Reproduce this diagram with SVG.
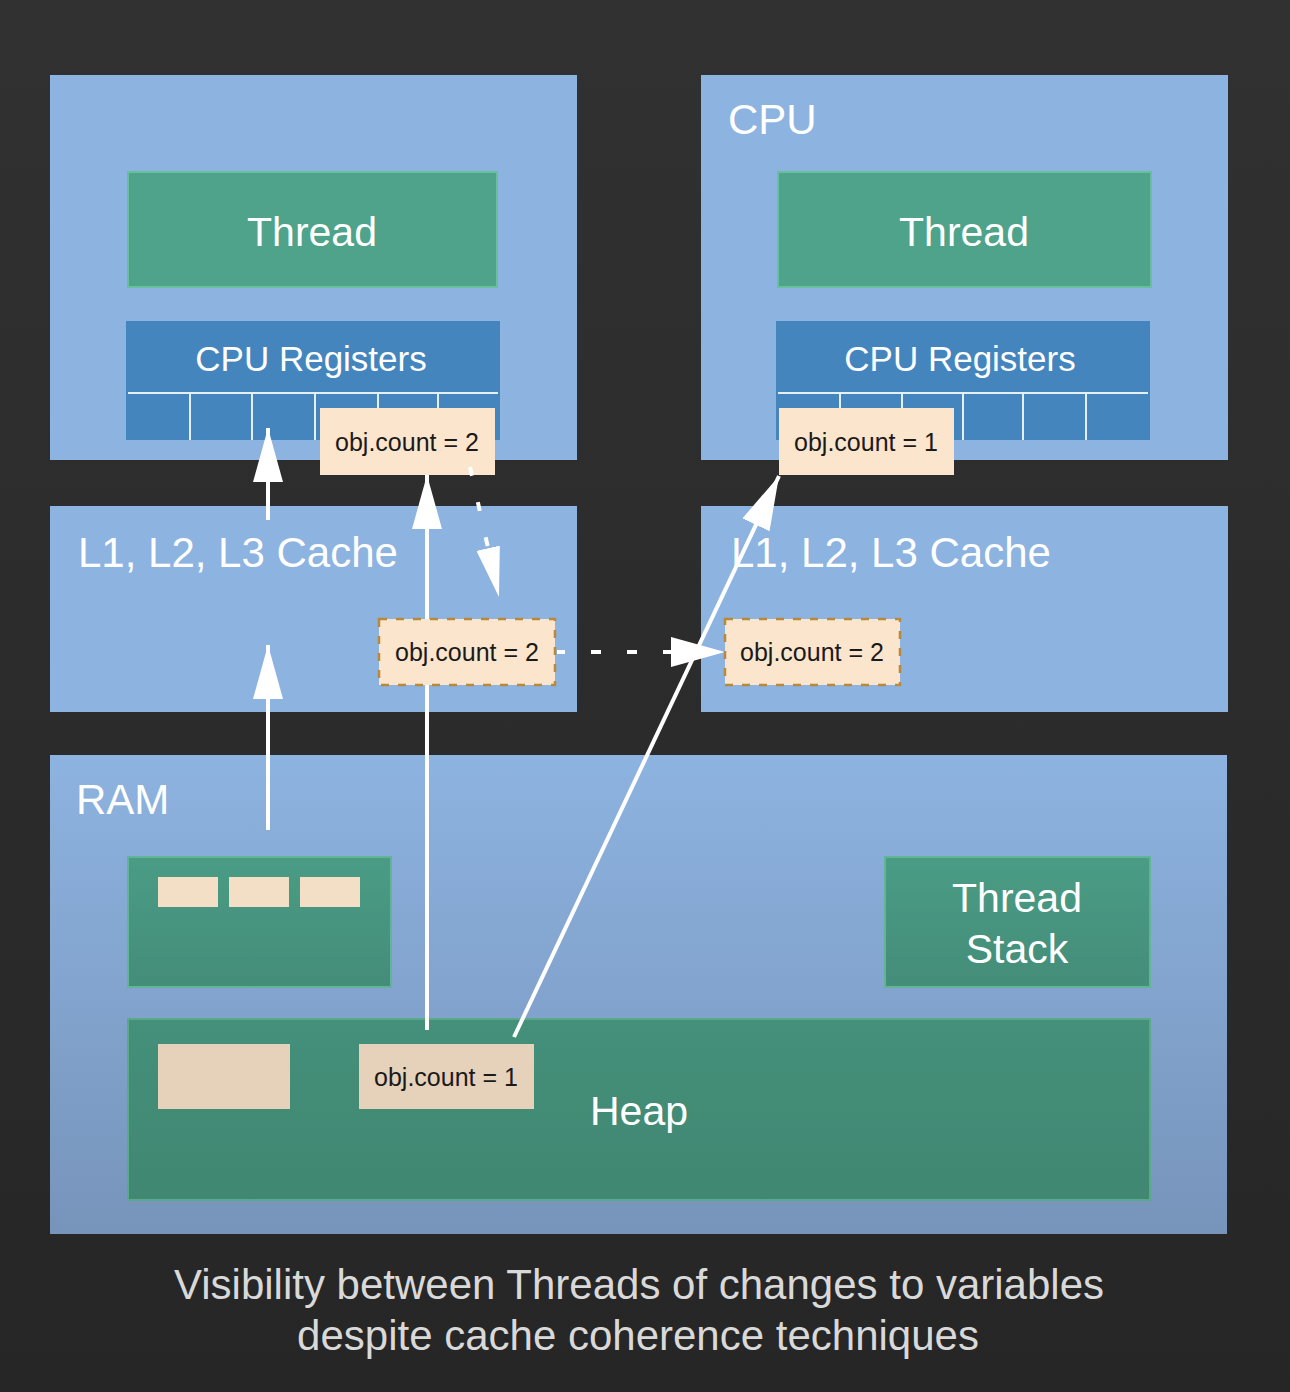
<svg xmlns="http://www.w3.org/2000/svg" width="1290" height="1392" viewBox="0 0 1290 1392">
<defs>
<linearGradient id="bg" x1="0" y1="0" x2="0" y2="1"><stop offset="0" stop-color="#313131"/><stop offset="1" stop-color="#262626"/></linearGradient>
<linearGradient id="ramg" x1="0" y1="0" x2="0" y2="1"><stop offset="0" stop-color="#8db3e0"/><stop offset="1" stop-color="#7794bb"/></linearGradient>
<linearGradient id="grg" x1="0" y1="0" x2="0" y2="1"><stop offset="0" stop-color="#4a9c85"/><stop offset="1" stop-color="#448d79"/></linearGradient>
<linearGradient id="heapg" x1="0" y1="0" x2="0" y2="1"><stop offset="0" stop-color="#44907a"/><stop offset="1" stop-color="#418772"/></linearGradient>
<marker id="ah" viewBox="0 0 54 30" refX="54" refY="15" markerWidth="54" markerHeight="30" markerUnits="userSpaceOnUse" orient="auto"><path d="M0,0 L54,15 L0,30 z" fill="#ffffff"/></marker>
<marker id="ahs" viewBox="0 0 50 24" refX="50" refY="12" markerWidth="50" markerHeight="24" markerUnits="userSpaceOnUse" orient="auto"><path d="M0,0 L50,12 L0,24 z" fill="#ffffff"/></marker>
<style>
.box{fill:#8db3e0}
.green{fill:#4ea38a;stroke:#68bf9c;stroke-width:2}
.reg{fill:#4585be}
.cell{stroke:#e6eef6;stroke-width:2;fill:none}
.val{fill:#fbe5cd}
.valdash{fill:#fbe5cd;stroke:#b8893a;stroke-width:2.5;stroke-dasharray:8 9}
.lbl{font-family:"Liberation Sans",Arial,sans-serif;fill:#ffffff}
.big{font-size:42px}
.thr{font-size:41px;text-anchor:middle}
.regt{font-size:35px;text-anchor:middle}
.vt{font-family:"Liberation Sans",Arial,sans-serif;font-size:25px;fill:#1a1a1a;text-anchor:middle}
.cap{font-family:"Liberation Sans",Arial,sans-serif;font-size:42px;fill:#d9d9d9;text-anchor:middle}
.ln{stroke:#ffffff;stroke-width:4;fill:none}
</style>
</defs>
<rect width="1290" height="1392" fill="url(#bg)"/>

<g id="cpu-left">
<rect class="box" x="50" y="75" width="527" height="385"/>
</g>
<g id="thread-left">
<rect class="green" x="128" y="172" width="369" height="115"/>
<text class="lbl thr" x="312" y="246">Thread</text>
</g>
<g id="registers-left">
<rect class="reg" x="126" y="321" width="374" height="119"/>
<path class="cell" d="M128,393 H498 M190,393 V440 M252,393 V440 M315,393 V440 M378,393 V440 M438,393 V440"/>
<text class="lbl regt" x="311" y="371">CPU Registers</text>
</g>

<g id="cpu-right">
<rect class="box" x="701" y="75" width="527" height="385"/>
<text class="lbl big" x="728" y="134">CPU</text>
</g>
<g id="thread-right">
<rect class="green" x="778" y="172" width="373" height="115"/>
<text class="lbl thr" x="964" y="246">Thread</text>
</g>
<g id="registers-right">
<rect class="reg" x="776" y="321" width="374" height="119"/>
<path class="cell" d="M778,393 H1148 M840,393 V440 M902,393 V440 M963,393 V440 M1023,393 V440 M1086,393 V440"/>
<text class="lbl regt" x="960" y="371">CPU Registers</text>
</g>

<g id="cache-left">
<rect class="box" x="50" y="506" width="527" height="206"/>
<text class="lbl big" x="78" y="567">L1, L2, L3 Cache</text>
</g>
<g id="cache-right">
<rect class="box" x="701" y="506" width="527" height="206"/>
<text class="lbl big" x="731" y="567">L1, L2, L3 Cache</text>
</g>

<g id="ram">
<rect x="50" y="755" width="1177" height="479" fill="url(#ramg)"/>
<text class="lbl big" x="76" y="814">RAM</text>
</g>
<g id="ram-block">
<rect x="128" y="857" width="263" height="130" fill="url(#grg)" stroke="#62b496" stroke-width="2"/>
<rect x="158" y="877" width="60" height="30" fill="#f3dec6"/>
<rect x="229" y="877" width="60" height="30" fill="#f3dec6"/>
<rect x="300" y="877" width="60" height="30" fill="#f3dec6"/>
</g>
<g id="thread-stack">
<rect x="885" y="857" width="265" height="130" fill="url(#grg)" stroke="#62b496" stroke-width="2"/>
<text class="lbl thr" x="1017" y="912">Thread</text>
<text class="lbl thr" x="1017" y="963">Stack</text>
</g>
<g id="heap">
<rect x="128" y="1019" width="1022" height="181" fill="url(#heapg)" stroke="#5aa98b" stroke-width="2"/>
<rect x="158" y="1044" width="132" height="65" fill="#e6d1bb"/>
<text class="lbl" x="590" y="1125" font-size="41">Heap</text>
</g>

<g id="val-reg-left">
<rect class="val" x="320" y="408" width="175" height="67"/>
<text class="vt" x="407" y="451">obj.count = 2</text>
</g>
<g id="val-reg-right">
<rect class="val" x="779" y="408" width="175" height="67"/>
<text class="vt" x="866" y="451">obj.count = 1</text>
</g>

<g id="connectors">
<line class="ln" x1="268" y1="830" x2="268" y2="645" marker-end="url(#ah)"/>
<line class="ln" x1="268" y1="520" x2="268" y2="428" marker-end="url(#ah)"/>
<line class="ln" x1="427" y1="1030" x2="427" y2="475" marker-end="url(#ah)"/>
<line class="ln" x1="514" y1="1037" x2="779" y2="476" marker-end="url(#ah)"/>
<line class="ln" x1="470" y1="467" x2="499" y2="597" stroke-dasharray="9 27" marker-end="url(#ahs)"/>
<line class="ln" x1="557" y1="652" x2="725" y2="652" stroke-dasharray="10 26" stroke-dashoffset="2" marker-end="url(#ah)"/>
</g>

<g id="val-cache-left">
<rect class="valdash" x="379" y="619" width="176" height="66"/>
<text class="vt" x="467" y="661">obj.count = 2</text>
</g>
<g id="val-cache-right">
<rect class="valdash" x="725" y="619" width="175" height="66"/>
<text class="vt" x="812" y="661">obj.count = 2</text>
</g>
<g id="val-heap">
<rect x="359" y="1044" width="175" height="65" fill="#e6d1bb"/>
<text class="vt" x="446" y="1086">obj.count = 1</text>
</g>

<g id="caption">
<text class="cap" x="639" y="1299">Visibility between Threads of changes to variables</text>
<text class="cap" x="638" y="1350">despite cache coherence techniques</text>
</g>
</svg>
